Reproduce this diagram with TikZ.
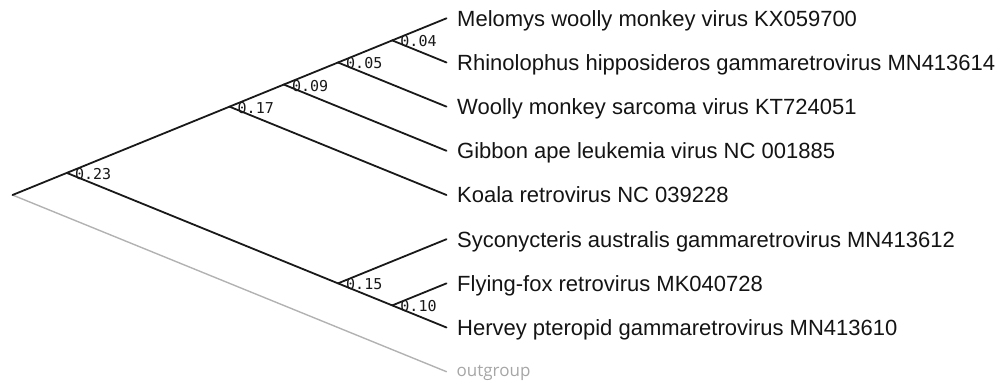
\documentclass[tikz,border=0pt]{standalone}
\usepackage{fontspec}
\setmainfont{Liberation Sans}
\newfontfamily\blfont{DejaVu Sans Mono}
\newfontfamily\ogfont{Open Sans}
\usetikzlibrary{calc}
\begin{document}
\begin{tikzpicture}[x=1pt,y=-1pt,
  branch/.style={line width=1.8pt, draw=black!90, line cap=round},
  outbranch/.style={line width=1.4pt, draw=black!30, line cap=round},
  taxon/.style={anchor=base west, inner sep=0pt, font=\fontsize{22}{25}\selectfont, text=black!92},
  blabel/.style={anchor=west, inner sep=0pt, font=\blfont\fontsize{15}{17}\selectfont, text=black!90},
  oglabel/.style={anchor=base west, inner sep=0pt, font=\ogfont\fontsize{17}{20}\selectfont, text=black!35}]
\useasboundingbox (0,0) rectangle (999,383);
% tips
\coordinate (t0) at (446.5,18.3);
\coordinate (t1) at (446.5,62.5);
\coordinate (t2) at (446.5,106.65);
\coordinate (t3) at (446.5,150.8);
\coordinate (t4) at (446.5,195.0);
\coordinate (t5) at (446.5,239.2);
\coordinate (t6) at (446.5,283.35);
\coordinate (t7) at (446.5,327.5);
\coordinate (t8) at (446.5,371.7);
% internal nodes
\coordinate (root) at (12.5,195.0);
\coordinate (n23) at (66.8,172.9);
\coordinate (n17) at (229.5,106.65);
\coordinate (n09) at (283.8,84.55);
\coordinate (n05) at (338.0,62.5);
\coordinate (n04) at (392.25,40.4);
\coordinate (n15) at (338.0,283.35);
\coordinate (n10) at (392.25,305.4);
% branches
\draw[outbranch] (root) -- (t8);
\draw[branch] (root) -- (n23);
\draw[branch] (n23) -- (n17);
\draw[branch] (n17) -- (n09);
\draw[branch] (n09) -- (n05);
\draw[branch] (n05) -- (n04);
\draw[branch] (n04) -- (t0);
\draw[branch] (n04) -- (t1);
\draw[branch] (n05) -- (t2);
\draw[branch] (n09) -- (t3);
\draw[branch] (n17) -- (t4);
\draw[branch] (n23) -- (n15);
\draw[branch] (n15) -- (t5);
\draw[branch] (n15) -- (n10);
\draw[branch] (n10) -- (t6);
\draw[branch] (n10) -- (t7);
% branch labels
\node[blabel] (b23) at ($(n23)+(8,1)$) {0.23};
\node[blabel] (b17) at ($(n17)+(8,1)$) {0.17};
\node[blabel] (b09) at ($(n09)+(8,1)$) {0.09};
\node[blabel] (b05) at ($(n05)+(8,1)$) {0.05};
\node[blabel] (b04) at ($(n04)+(8,1)$) {0.04};
\node[blabel] (b15) at ($(n15)+(8,1)$) {0.15};
\node[blabel] (b10) at ($(n10)+(8,1)$) {0.10};
% taxa
\node[taxon] (l0) at ($(t0)+(10.5,7.9)$) {Melomys woolly monkey virus KX059700};
\node[taxon] (l1) at ($(t1)+(10.5,7.9)$) {Rhinolophus hipposideros gammaretrovirus MN413614};
\node[taxon] (l2) at ($(t2)+(10.5,7.9)$) {Woolly monkey sarcoma virus KT724051};
\node[taxon] (l3) at ($(t3)+(10.5,7.9)$) {Gibbon ape leukemia virus NC 001885};
\node[taxon] (l4) at ($(t4)+(10.5,7.9)$) {Koala retrovirus NC 039228};
\node[taxon] (l5) at ($(t5)+(10.5,7.9)$) {Syconycteris australis gammaretrovirus MN413612};
\node[taxon] (l6) at ($(t6)+(10.5,7.9)$) {Flying-fox retrovirus MK040728};
\node[taxon] (l7) at ($(t7)+(10.5,7.9)$) {Hervey pteropid gammaretrovirus MN413610};
\node[oglabel] (l8) at ($(t8)+(10,4.5)$) {outgroup};
\end{tikzpicture}
\end{document}
